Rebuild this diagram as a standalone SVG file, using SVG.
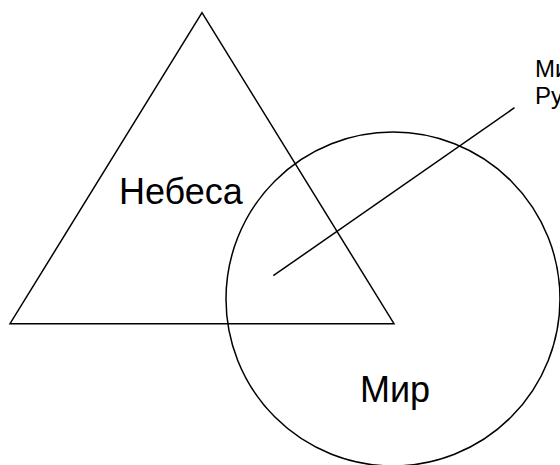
<svg xmlns="http://www.w3.org/2000/svg" width="560" height="465" viewBox="0 0 560 465">
<style>
.s{fill:none;stroke:#000;stroke-width:1.5}
.t{font-family:"Liberation Sans",Arial,sans-serif;fill:#000}
</style>
<rect width="560" height="465" fill="#fff"/>
<g id="heaven">
<polygon class="s" points="202,12.7 10,323.7 394,323.7"/>
<text class="t" x="119" y="204" font-size="36">Небеса</text>
</g>
<g id="world">
<circle class="s" cx="393" cy="299" r="167"/>
<text class="t" x="360" y="402" font-size="36">Мир</text>
</g>
<g id="label">
<text class="t" x="535" y="77" font-size="24">Ми</text>
<text class="t" x="535" y="104" font-size="24">Ру</text>
</g>
<g id="connectors">
<line class="s" x1="273.3" y1="275.7" x2="514.5" y2="107.7"/>
</g>
</svg>
